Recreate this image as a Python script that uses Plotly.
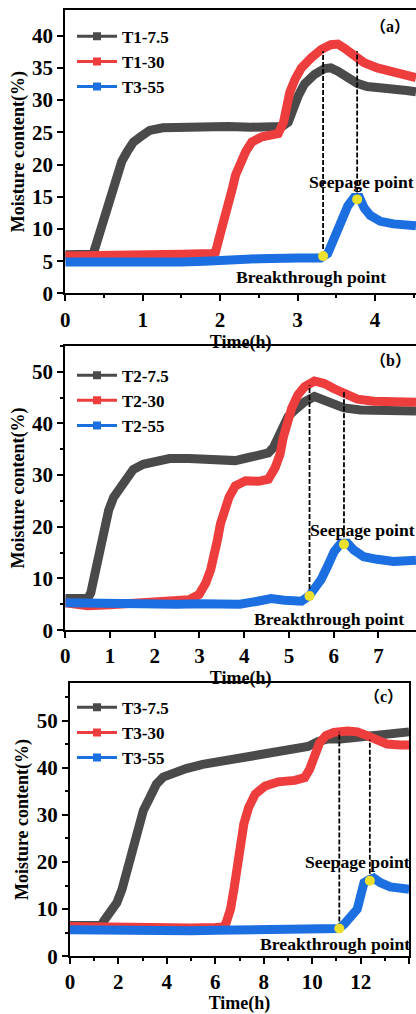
import plotly.graph_objects as go

# ---------------- data ----------------
# Panel (a)
a_t_gray = [0, 0.2, 0.35, 0.37, 0.455, 0.52, 0.60, 0.67, 0.73, 0.80, 0.88, 0.97, 1.09, 1.26, 1.5, 1.8, 2.1, 2.4, 2.7, 2.8,
            2.88, 2.94, 3.01, 3.09, 3.22, 3.35, 3.43, 3.52, 3.65, 3.77, 3.9, 4.07, 4.24, 4.41, 4.53]
a_v_gray = [6.0, 6.0, 6.1, 6.5, 9.8, 13.0, 15.9, 19.0, 20.5, 22.0, 23.5, 24.3, 25.3, 25.7, 25.8, 25.7, 25.9, 25.8, 25.9, 25.9,
            26.6, 28.7, 30.7, 32.5, 34.0, 34.9, 35.0, 34.5, 33.5, 32.6, 32.1, 32.0, 31.8, 31.5, 31.3]
a_t_red = [0, 0.5, 1.0, 1.5, 1.9, 1.94, 1.99, 2.03, 2.08, 2.11, 2.16, 2.2, 2.25, 2.33, 2.41, 2.54, 2.67, 2.75, 2.82, 2.86,
           2.9, 2.97, 3.05, 3.18, 3.31, 3.43, 3.52, 3.6, 3.73, 3.86, 4.03, 4.2, 4.37, 4.53]
a_v_red = [5.8, 5.8, 5.9, 6.1, 6.2, 6.4, 8.7, 10.3, 12.3, 13.8, 16.4, 18.4, 20.0, 22.0, 23.5, 24.3, 24.6, 24.8, 26.6, 29.2,
           31.2, 33.3, 35.0, 36.6, 37.9, 38.6, 38.7, 38.1, 36.8, 35.8, 35.0, 34.5, 34.0, 33.5]
a_t_blue = [0, 0.5, 1.0, 1.5, 1.8, 2.0, 2.5, 3.0, 3.3, 3.39, 3.48, 3.56, 3.65, 3.73, 3.8, 3.86, 3.94, 4.07, 4.24, 4.53]
a_v_blue = [4.9, 4.8, 4.8, 4.9, 5.0, 5.2, 5.4, 5.5, 5.5, 6.2, 8.7, 11.3, 13.6, 14.9, 14.9, 13.3, 12.1, 11.2, 10.8, 10.5]
a_names = ["T1-7.5", "T1-30", "T3-55"]
a_points_t = [3.33, 3.77]          # breakthrough, seepage
a_points_v = [5.8, 14.6]
a_dash_top = [37.6, 37.6]

# Panel (b)
b_t_gray = [0, 0.3, 0.5, 0.57, 0.64, 0.75, 0.86, 0.97, 1.08, 1.23, 1.38, 1.52, 1.74, 2.04, 2.33, 2.77, 3.22, 3.51, 3.8, 4.1,
            4.39, 4.54, 4.65, 4.76, 4.87, 4.98, 5.13, 5.35, 5.57, 5.79, 6.01, 6.23, 6.6, 7.12, 7.48, 7.84]
b_v_gray = [6.1, 6.0, 6.1, 7.2, 10.4, 14.9, 19.3, 23.2, 25.7, 27.6, 29.5, 31.1, 32.1, 32.8, 33.2, 33.2, 33.0, 32.7, 32.8, 33.4,
            33.9, 34.3, 35.3, 37.2, 39.7, 41.3, 42.6, 44.2, 45.2, 44.5, 43.7, 43.0, 42.6, 42.6, 42.4, 42.4]
b_t_red = [0, 0.3, 0.5, 1.0, 1.5, 2.0, 2.5, 2.77, 2.99, 3.14, 3.25, 3.33, 3.4, 3.47, 3.55, 3.66, 3.8, 4.03, 4.32, 4.54,
           4.69, 4.8, 4.87, 4.95, 5.06, 5.2, 5.35, 5.57, 5.79, 6.01, 6.23, 6.53, 6.9, 7.34, 7.84]
b_v_red = [5.3, 5.0, 4.7, 4.9, 5.1, 5.2, 5.4, 5.9, 6.9, 9.1, 11.7, 14.2, 17.4, 20.6, 23.2, 25.7, 27.9, 28.9, 28.8, 29.2,
           31.4, 34.0, 37.2, 39.7, 42.9, 45.5, 47.1, 48.2, 47.7, 46.7, 45.8, 44.7, 44.3, 44.1, 44.1]
b_t_blue = [0, 0.5, 1.0, 1.5, 2.0, 2.5, 3.0, 3.5, 3.9, 4.3, 4.6, 4.9, 5.28, 5.45, 5.57, 5.72, 5.86, 6.01, 6.16, 6.31,
            6.45, 6.67, 6.97, 7.34, 7.84]
b_v_blue = [5.3, 5.2, 5.0, 5.1, 5.1, 5.0, 5.1, 5.1, 5.0, 5.6, 6.1, 5.8, 5.6, 6.6, 7.8, 9.8, 12.3, 15.2, 16.8, 16.8,
            15.5, 14.2, 13.7, 13.3, 13.5]
b_names = ["T2-7.5", "T2-30", "T2-55"]
b_points_t = [5.46, 6.23]
b_points_v = [6.6, 16.6]
b_dash_top = [47.4, 46.1]

# Panel (c)
c_t_gray = [0, 0.5, 1.0, 1.3, 1.4, 1.67, 1.94, 2.15, 2.35, 2.56, 2.76, 3.03, 3.3, 3.57, 3.85, 4.25, 4.8, 5.48, 6.29, 7.1,
            7.92, 8.74, 9.42, 9.83, 10.23, 10.64, 11.18, 11.73, 12.27, 12.82, 13.36, 14.0]
c_v_gray = [6.5, 6.5, 6.5, 6.6, 7.5, 9.3, 11.4, 14.2, 18.3, 23.2, 26.7, 30.9, 33.7, 36.5, 38.0, 38.9, 39.8, 40.7, 41.4, 41.9,
            42.4, 43.1, 43.8, 44.5, 45.5, 46.1, 46.1, 46.4, 46.9, 47.3, 47.6, 47.6]
c_t_red = [0, 1, 2, 3, 4, 5, 6, 6.3, 6.43, 6.63, 6.77, 6.9, 7.04, 7.18, 7.38, 7.65, 8.06, 8.6, 9.28, 9.69,
           9.89, 10.1, 10.3, 10.57, 10.9, 11.46, 11.86, 12.27, 12.68, 13.09, 13.63, 14.0]
c_v_red = [6.3, 6.2, 6.1, 5.9, 5.9, 6.0, 6.1, 6.2, 6.8, 10.0, 14.2, 19.0, 23.9, 28.1, 31.6, 34.4, 36.1, 37.0, 37.3, 37.9,
           39.6, 42.7, 45.2, 46.8, 47.5, 47.8, 47.6, 46.8, 45.7, 45.0, 44.8, 44.8]
c_t_blue = [0, 1, 2, 3, 4, 5, 6, 7, 8, 9, 10, 10.5, 11.1, 11.32, 11.59, 11.86, 12.0, 12.14, 12.34, 12.54, 12.82, 13.22, 14.0]
c_v_blue = [5.6, 5.5, 5.4, 5.2, 5.3, 5.4, 5.5, 5.5, 5.6, 5.7, 5.8, 5.9, 5.9, 6.8, 8.2, 10.0, 12.8, 15.6, 16.2, 16.6, 15.6, 14.7, 14.2]
c_names = ["T3-7.5", "T3-30", "T3-55"]
c_points_t = [11.12, 12.38]
c_points_v = [5.9, 16.0]
c_dash_top = [47.6, 45.9]

panel_labels = ["（a）", "（b）", "（c）"]

# ---------------- styling ----------------
FONT = "Liberation Serif, Times New Roman, serif"
COLORS = ["#4a4a4a", "#ee3d3d", "#1c6fe0"]
YELLOW = "#ebe02e"
W, H = 416, 1014

panels = [
    dict(series=[(a_t_gray, a_v_gray), (a_t_red, a_v_red), (a_t_blue, a_v_blue)], names=a_names,
         pts=(a_points_t, a_points_v), tops=a_dash_top,
         xdom=[61 / W, 1.0], ydom=[1 - 297 / H, 1 - 10 / H], xr=[0, 4.53], yr=[0, 44],
         xdt=1, xminor=0.5, ydt=5, yminor=None, full_box=False,
         lab=(4.19, 41.4), seep=(3.82, 17.3), brk=(3.17, 2.5), leg=(0.163, 1 - 19 / H)),
    dict(series=[(b_t_gray, b_v_gray), (b_t_red, b_v_red), (b_t_blue, b_v_blue)], names=b_names,
         pts=(b_points_t, b_points_v), tops=b_dash_top,
         xdom=[61 / W, 1.0], ydom=[1 - 637.7 / H, 1 - 350 / H], xr=[0, 7.84], yr=[0, 55],
         xdt=1, xminor=None, ydt=10, yminor=5, full_box=False,
         lab=(7.26, 52.2), seep=(6.64, 19.3), brk=(5.89, 2.2), leg=(0.163, 1 - 362 / H)),
    dict(series=[(c_t_gray, c_v_gray), (c_t_red, c_v_red), (c_t_blue, c_v_blue)], names=c_names,
         pts=(c_points_t, c_points_v), tops=c_dash_top,
         xdom=[65.7 / W, 409 / W], ydom=[1 - 967.7 / H, 1 - 691 / H], xr=[0, 14], yr=[0, 58],
         xdt=2, xminor=1, ydt=10, yminor=5, full_box=True,
         lab=(12.94, 55.0), seep=(11.87, 20.0), brk=(10.95, 2.5), leg=(0.163, 1 - 698 / H)),
]

fig = go.Figure()
annotations = []
layout = {}

for i, p in enumerate(panels):
    sfx = "" if i == 0 else str(i + 1)
    xref, yref = "x" + sfx, "y" + sfx
    leg = "legend" + sfx
    # curves
    for (t, v), name, col in zip(p["series"], p["names"], COLORS):
        fig.add_trace(go.Scatter(x=t, y=v, mode="lines", line=dict(color=col, width=9),
                                 xaxis=xref, yaxis=yref, showlegend=False, hoverinfo="skip"))
    # legend entries
    for name, col in zip(p["names"], COLORS):
        fig.add_trace(go.Scatter(x=[None], y=[None], mode="lines+markers", name=name,
                                 line=dict(color=col, width=3),
                                 marker=dict(symbol="square", size=8, color=col),
                                 xaxis=xref, yaxis=yref, legend=leg, showlegend=True))
    # dashed guide lines
    pt_t, pt_v = p["pts"]
    for tx, vy, top in zip(pt_t, pt_v, p["tops"]):
        fig.add_trace(go.Scatter(x=[tx, tx], y=[vy, top], mode="lines",
                                 line=dict(color="black", width=1.8, dash="5px,2px"),
                                 xaxis=xref, yaxis=yref, showlegend=False, hoverinfo="skip"))
    # yellow points
    fig.add_trace(go.Scatter(x=pt_t, y=pt_v, mode="markers",
                             marker=dict(color=YELLOW, size=10, line=dict(width=0)),
                             xaxis=xref, yaxis=yref, showlegend=False))

    axis_font = dict(family=FONT, size=21, color="black", weight="bold")
    title_font = dict(family=FONT, size=18, color="black", weight="bold")
    xa = dict(domain=p["xdom"], anchor=yref, range=p["xr"], dtick=p["xdt"], tick0=0,
              showline=True, linewidth=2, linecolor="black", mirror=True,
              ticks="outside", ticklen=6, tickwidth=2, tickcolor="black",
              tickfont=axis_font, showgrid=False, zeroline=False,
              title=dict(text="Time(h)", font=title_font, standoff=1))
    if p["xminor"]:
        xa["minor"] = dict(dtick=p["xminor"], ticks="outside", ticklen=3, tickwidth=2, tickcolor="black")
    ya = dict(domain=p["ydom"], anchor=xref, range=p["yr"], dtick=p["ydt"], tick0=0,
              showline=True, linewidth=2, linecolor="black", mirror=p["full_box"],
              ticks="outside", ticklen=6, tickwidth=2, tickcolor="black",
              tickfont=axis_font, showgrid=False, zeroline=False,
              title=dict(text="Moisture content(%)", font=title_font, standoff=3))
    if p["yminor"]:
        ya["minor"] = dict(dtick=p["yminor"], ticks="outside", ticklen=3, tickwidth=2, tickcolor="black")
    layout["xaxis" + sfx] = xa
    layout["yaxis" + sfx] = ya
    layout[leg] = dict(x=p["leg"][0], y=p["leg"][1], xanchor="left", yanchor="top",
                       bgcolor="rgba(0,0,0,0)", borderwidth=0, itemwidth=40, tracegroupgap=0,
                       font=dict(family=FONT, size=17, color="black", weight="bold"))
    ann_font = dict(family=FONT, size=17.7, color="black", weight="bold")
    annotations.append(dict(x=p["lab"][0], y=p["lab"][1], xref=xref, yref=yref, text=panel_labels[i],
                            showarrow=False, font=dict(family="Liberation Serif, Noto Sans CJK SC", size=16,
                                                       color="black", weight="bold")))
    annotations.append(dict(x=p["seep"][0], y=p["seep"][1], xref=xref, yref=yref, text="Seepage point",
                            showarrow=False, font=ann_font))
    annotations.append(dict(x=p["brk"][0], y=p["brk"][1], xref=xref, yref=yref, text="Breakthrough point",
                            showarrow=False, font=ann_font))

fig.update_layout(width=W, height=H, margin=dict(l=0, r=0, t=0, b=0),
                  paper_bgcolor="white", plot_bgcolor="white",
                  annotations=annotations, **layout)

fig.write_html("out.html", config={"displayModeBar": False},
               post_script="document.body.style.margin='0';document.body.style.overflow='hidden';"
                           "document.documentElement.style.overflow='hidden';")
